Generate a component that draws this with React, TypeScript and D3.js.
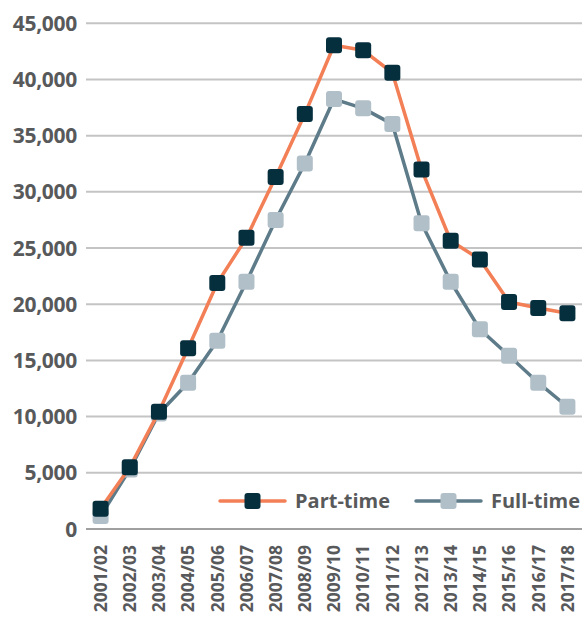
import React from "react";
import * as d3 from "d3";

const years = ["2001/02","2002/03","2003/04","2004/05","2005/06","2006/07","2007/08","2008/09","2009/10","2010/11","2011/12","2012/13","2013/14","2014/15","2015/16","2016/17","2017/18"];
const partTime = [1800, 5500, 10440, 16080, 21890, 25920, 31320, 36920, 43050, 42600, 40600, 32000, 25650, 23990, 20200, 19660, 19190];
const fullTime = [1150, 5300, 10280, 13020, 16750, 22000, 27490, 32530, 38260, 37430, 36030, 27200, 22000, 17770, 15420, 13020, 10880];
const yTicks = [0, 5000, 10000, 15000, 20000, 25000, 30000, 35000, 40000, 45000];

const W = 584, H = 617;
const FONT = "'Open Sans', sans-serif";
const TEXT = "#58595b";
const ORANGE = "#f37f56";
const NAVY = "#062f3e";
const SLATE = "#5e7b89";
const LIGHT = "#b1bfc8";

export default function App() {
  const x = d3.scaleBand().domain(years).range([86, 582]);
  const y = d3.scaleLinear().domain([0, 45000]).range([529, 23.3]);
  const cx = (d: string) => (x(d) as number) + x.bandwidth() / 2;
  const line = d3.line<number>().x((_, i) => cx(years[i])).y((v) => y(v));
  const ms = 16;

  const series = [
    { name: "Full-time", data: fullTime, line: SLATE, fill: LIGHT },
    { name: "Part-time", data: partTime, line: ORANGE, fill: NAVY },
  ];

  const legend = [
    { name: "Part-time", line: ORANGE, fill: NAVY, x0: 220, x1: 285, tx: 295 },
    { name: "Full-time", line: SLATE, fill: LIGHT, x0: 416, x1: 481, tx: 491 },
  ];

  return (
    <svg width={W} height={H} style={{ position: "absolute", left: 0, top: 0 }}>
      <rect width={W} height={H} fill="#fff" />
      {yTicks.map((t) => (
        <g key={t}>
          <line x1={86} x2={582} y1={y(t)} y2={y(t)} stroke={t === 0 ? "#a0a0a0" : "#c4c4c4"} strokeWidth={2} />
          <text x={77} y={y(t)} dy="0.36em" textAnchor="end" fontFamily={FONT} fontWeight={700} fontSize={21} fill={TEXT} letterSpacing={-0.3}>
            {d3.format(",")(t)}
          </text>
        </g>
      ))}
      {years.map((yr) => (
        <text key={yr} transform={`translate(${cx(yr)},545) rotate(-90)`} dy="0.36em" textAnchor="end" fontFamily={FONT} fontWeight={700} fontSize={17.5} fill={TEXT}>
          {yr}
        </text>
      ))}
      {series.map((s) => (
        <g key={s.name}>
          <path d={line(s.data) as string} fill="none" stroke={s.line} strokeWidth={3.5} strokeLinejoin="round" />
          {s.data.map((v, i) => (
            <rect key={i} x={cx(years[i]) - ms / 2} y={y(v) - ms / 2} width={ms} height={ms} rx={3} fill={s.fill} />
          ))}
        </g>
      ))}
      {legend.map((l) => (
        <g key={l.name}>
          <line x1={l.x0} x2={l.x1} y1={501} y2={501} stroke={l.line} strokeWidth={3.5} strokeLinecap="round" />
          <rect x={(l.x0 + l.x1) / 2 - ms / 2} y={501 - ms / 2} width={ms} height={ms} rx={3} fill={l.fill} />
          <text x={l.tx} y={501} dy="0.36em" fontFamily={FONT} fontWeight={700} fontSize={20} fill={TEXT}>
            {l.name}
          </text>
        </g>
      ))}
    </svg>
  );
}
